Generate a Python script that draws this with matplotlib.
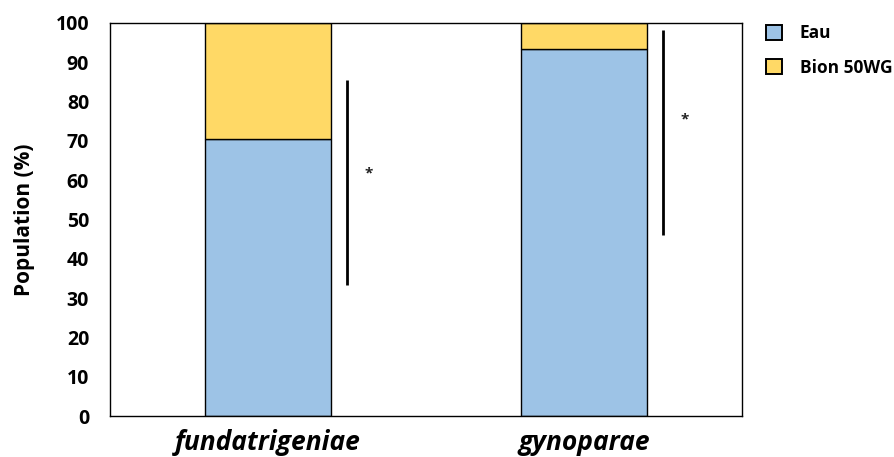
import matplotlib
matplotlib.use("Agg")
import matplotlib.pyplot as plt

categories = ["fundatrigeniae", "gynoparae"]
eau = [70.5, 93.5]
bion = [29.5, 6.5]
series_names = ["Eau", "Bion 50WG"]
colors = ["#9DC3E6", "#FFD966"]

# significance brackets: (low, high) per category, and star heights
sig_lines = [(33.3, 85.5), (46.0, 98.2)]
sig_stars = [62.6, 76.3]

plt.rcParams['font.family'] = ['Open Sans', 'DejaVu Sans']

fig = plt.figure(figsize=(8.95, 4.57), dpi=100)
ax = fig.add_axes([110 / 895, 41 / 457, 632 / 895, 393 / 457])

x = list(range(len(categories)))
ax.bar(x, eau, width=0.4, color=colors[0], edgecolor="black", linewidth=1.0,
       label=series_names[0], zorder=2)
ax.bar(x, bion, width=0.4, bottom=eau, color=colors[1], edgecolor="black",
       linewidth=1.0, label=series_names[1], zorder=2)

for xi, (lo, hi), ys in zip(x, sig_lines, sig_stars):
    ax.plot([xi + 0.25, xi + 0.25], [lo, hi], color="black", lw=2.0,
            solid_capstyle="butt", zorder=3)
    ax.text(xi + 0.317, ys - 0.8, "*", ha="center", va="center", fontsize=11,
            fontweight="bold", color="#222222")

ax.set_xlim(-0.5, 1.5)
ax.set_ylim(0, 100)
ax.set_yticks(range(0, 101, 10))
ax.set_xticks(x)
ax.set_xticklabels(categories, fontsize=19, fontweight="bold", style="italic")
ax.tick_params(axis="both", length=0)
ax.tick_params(axis="y", labelsize=14, pad=15)
ax.tick_params(axis="x", pad=9)
for lab in ax.get_yticklabels():
    lab.set_fontweight("bold")
ax.set_ylabel("Population (%)", fontsize=15, fontweight="bold", labelpad=15)

for sp in ax.spines.values():
    sp.set_linewidth(1.0)
    sp.set_color("black")

leg = ax.legend(loc="upper left", bbox_to_anchor=(1.013, 1.037), frameon=False,
                prop={"weight": "bold", "size": 12.5}, handlelength=0.95,
                handleheight=0.95, labelspacing=0.95, handletextpad=1.0)
for h in leg.legend_handles:
    h.set_linewidth(1.4)

fig.savefig("out.png", dpi=100)
